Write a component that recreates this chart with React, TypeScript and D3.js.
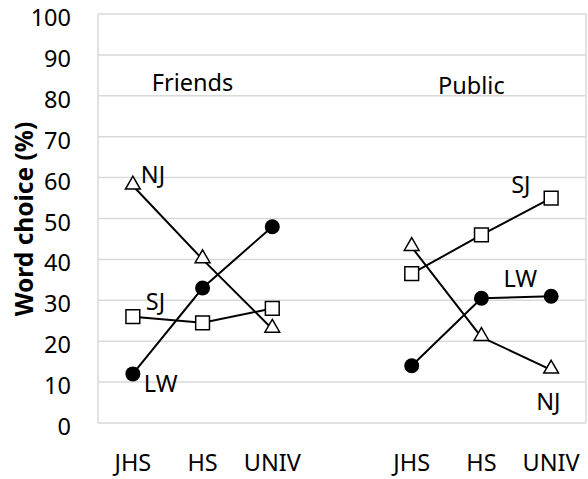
import React, { useEffect, useRef } from "react";
import * as d3 from "d3";

// x categories; the blank one separates the two panels
const categories = ["JHS-F", "HS-F", "UNIV-F", "gap", "JHS-P", "HS-P", "UNIV-P"];
const tickLabels = ["JHS", "HS", "UNIV", "", "JHS", "HS", "UNIV"];
const yTicks = [0, 10, 20, 30, 40, 50, 60, 70, 80, 90, 100];

const friendsCats = ["JHS-F", "HS-F", "UNIV-F"];
const publicCats = ["JHS-P", "HS-P", "UNIV-P"];

const friendsNJ = [58, 40, 23];
const friendsSJ = [26, 24.5, 28];
const friendsLW = [12, 33, 48];
const publicNJ = [43, 21, 13];
const publicSJ = [36.5, 46, 55];
const publicLW = [14, 30.5, 31];

type Marker = "triangle" | "square" | "circle";

type Series = {
  name: string;
  cats: string[];
  values: number[];
  marker: Marker;
  labelIdx: number;
  dx: number;
  dy: number;
};

const series: Series[] = [
  { name: "NJ", cats: friendsCats, values: friendsNJ, marker: "triangle", labelIdx: 0, dx: 8, dy: -3 },
  { name: "SJ", cats: friendsCats, values: friendsSJ, marker: "square", labelIdx: 0, dx: 13, dy: -7 },
  { name: "LW", cats: friendsCats, values: friendsLW, marker: "circle", labelIdx: 0, dx: 11, dy: 18 },
  { name: "NJ", cats: publicCats, values: publicNJ, marker: "triangle", labelIdx: 2, dx: -15, dy: 40 },
  { name: "SJ", cats: publicCats, values: publicSJ, marker: "square", labelIdx: 2, dx: -40, dy: -5 },
  { name: "LW", cats: publicCats, values: publicLW, marker: "circle", labelIdx: 1, dx: 22, dy: -11 },
];

const W = 588;
const H = 479;
const margin = { top: 14, right: 2, bottom: 56, left: 98 };
const FONT = "'Noto Sans', 'Open Sans', sans-serif";
const FS = 23.5;

export default function App() {
  const svgRef = useRef<SVGSVGElement>(null);

  useEffect(() => {
    if (!svgRef.current) return;
    const svg = d3.select(svgRef.current);
    svg.selectAll("*").remove();

    const x = d3
      .scaleBand<string>()
      .domain(categories)
      .range([margin.left, W - margin.right]);
    const y = d3
      .scaleLinear()
      .domain([0, 100])
      .range([H - margin.bottom, margin.top]);
    const cx = (c: string) => (x(c) ?? 0) + x.bandwidth() / 2;

    // gridlines
    svg
      .append("g")
      .selectAll("line")
      .data(yTicks)
      .join("line")
      .attr("x1", margin.left)
      .attr("x2", W - margin.right)
      .attr("y1", (d) => y(d))
      .attr("y2", (d) => y(d))
      .attr("stroke", "#d9d9d9")
      .attr("stroke-width", 1.5);

    // plot border sides
    svg
      .append("g")
      .selectAll("line")
      .data([margin.left, W - margin.right])
      .join("line")
      .attr("x1", (d) => d)
      .attr("x2", (d) => d)
      .attr("y1", y(0))
      .attr("y2", y(100))
      .attr("stroke", "#d9d9d9")
      .attr("stroke-width", 1.5);

    // y tick labels
    svg
      .append("g")
      .selectAll("text")
      .data(yTicks)
      .join("text")
      .attr("x", 71)
      .attr("y", (d) => y(d) + 12)
      .attr("text-anchor", "end")
      .attr("font-family", FONT)
      .attr("font-size", FS)
      .attr("fill", "#000")
      .text((d) => d);

    // x tick labels
    svg
      .append("g")
      .selectAll("text")
      .data(categories)
      .join("text")
      .attr("x", (d) => cx(d))
      .attr("y", 471)
      .attr("text-anchor", "middle")
      .attr("font-family", FONT)
      .attr("font-size", FS)
      .attr("fill", "#000")
      .text((_d, i) => tickLabels[i]);

    // y axis title
    svg
      .append("text")
      .attr("transform", `translate(33,219) rotate(-90)`)
      .attr("text-anchor", "middle")
      .attr("font-family", FONT)
      .attr("font-size", 24.5)
      .attr("font-weight", "bold")
      .text("Word choice (%)");

    // panel titles
    svg
      .append("text")
      .attr("x", cx("HS-F") - 10)
      .attr("y", 91)
      .attr("text-anchor", "middle")
      .attr("font-family", FONT)
      .attr("font-size", FS)
      .text("Friends");
    svg
      .append("text")
      .attr("x", cx("HS-P") - 10)
      .attr("y", 94)
      .attr("text-anchor", "middle")
      .attr("font-family", FONT)
      .attr("font-size", FS)
      .text("Public");

    const line = d3
      .line<[string, number]>()
      .x((d) => cx(d[0]))
      .y((d) => y(d[1]));

    const tri = d3.symbol().type(d3.symbolTriangle).size(95);
    const sq = d3.symbol().type(d3.symbolSquare).size(190);

    series.forEach((s) => {
      const pts: [string, number][] = s.cats.map((c, i) => [c, s.values[i]]);
      const g = svg.append("g");
      g.append("path")
        .attr("d", line(pts) ?? "")
        .attr("fill", "none")
        .attr("stroke", "#000")
        .attr("stroke-width", 2);

      const m = g
        .selectAll("g.pt")
        .data(pts)
        .join("g")
        .attr("transform", (d) => `translate(${cx(d[0])},${y(d[1])})`);
      if (s.marker === "circle") {
        m.append("circle").attr("r", 7.5).attr("fill", "#000");
      } else if (s.marker === "square") {
        m.append("path")
          .attr("d", sq() ?? "")
          .attr("fill", "#fff")
          .attr("stroke", "#000")
          .attr("stroke-width", 1.5);
      } else {
        m.append("path")
          .attr("d", tri() ?? "")
          .attr("transform", "translate(0,-1)")
          .attr("fill", "#fff")
          .attr("stroke", "#000")
          .attr("stroke-width", 1.5);
      }

      const lp = pts[s.labelIdx];
      g.append("text")
        .attr("x", cx(lp[0]) + s.dx)
        .attr("y", y(lp[1]) + s.dy)
        .attr("font-family", FONT)
        .attr("font-size", FS)
        .attr("fill", "#000")
        .text(s.name);
    });
  }, []);

  return (
    <svg
      ref={svgRef}
      width={W}
      height={H}
      style={{ position: "absolute", left: 0, top: 0, background: "#fff" }}
    />
  );
}
